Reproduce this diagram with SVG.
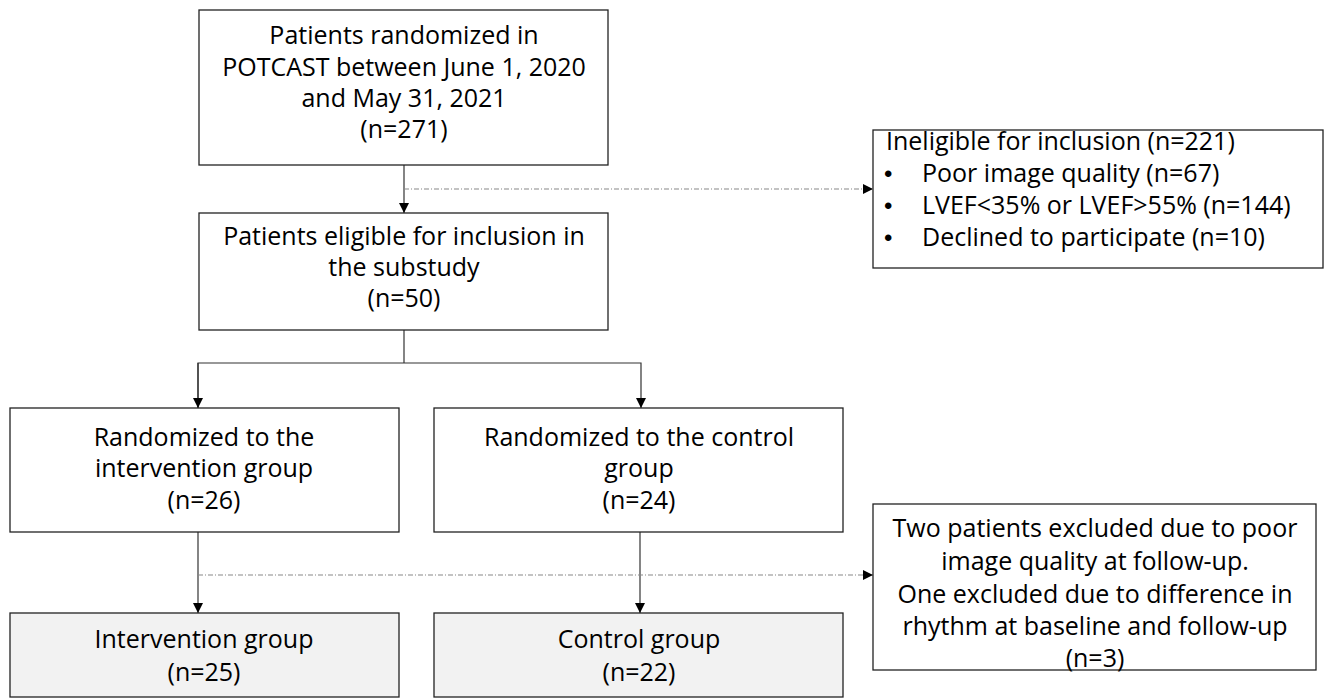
<svg xmlns="http://www.w3.org/2000/svg" width="1326" height="700" viewBox="0 0 1326 700">
<style>
.box{fill:#fff;stroke:#222;stroke-width:1.3}
.gbox{fill:#f2f2f2;stroke:#222;stroke-width:1.3}
text{font-family:"Open Sans",Lato,"Liberation Sans",sans-serif;font-size:25px;fill:#000}
.c{text-anchor:middle}
.b{font-family:"Liberation Sans",sans-serif;font-size:24px}
.ln{fill:none;stroke:#333;stroke-width:1.2}
.dl{fill:none;stroke:#888;stroke-width:1.2;stroke-dasharray:5 2 1 2}
</style>
<defs>
<marker id="ah" viewBox="0 0 10 10" refX="10" refY="5" markerWidth="10" markerHeight="10" markerUnits="userSpaceOnUse" orient="auto">
<path d="M0,0 L10,5 L0,10 z" fill="#000"/>
</marker>
</defs>
<g id="connectors">
<line class="ln" x1="404" y1="165" x2="404" y2="213" marker-end="url(#ah)"/>
<line class="dl" x1="404" y1="189" x2="873" y2="189" marker-end="url(#ah)"/>
<polyline class="ln" points="404,330 404,363"/>
<polyline class="ln" points="198,408 198,363 641,363 641,408" marker-end="url(#ah)"/>
<line class="ln" x1="198" y1="363" x2="198" y2="408" marker-end="url(#ah)"/>
<line class="ln" x1="198" y1="532" x2="198" y2="613" marker-end="url(#ah)"/>
<line class="ln" x1="640" y1="532" x2="640" y2="613" marker-end="url(#ah)"/>
<line class="dl" x1="198" y1="575" x2="873" y2="575" marker-end="url(#ah)"/>
</g>
<g id="n1">
<rect class="box" x="199" y="10" width="409" height="155"/>
<text class="c" x="404" y="44">Patients randomized in</text>
<text class="c" x="404" y="76">POTCAST between June 1, 2020</text>
<text class="c" x="404" y="107">and May 31, 2021</text>
<text class="c" x="404" y="138">(n=271)</text>
</g>
<g id="n2">
<rect class="box" x="199" y="213" width="409" height="117"/>
<text class="c" x="404" y="245">Patients eligible for inclusion in</text>
<text class="c" x="404" y="276">the substudy</text>
<text class="c" x="404" y="307">(n=50)</text>
</g>
<g id="n3">
<rect class="box" x="873" y="130" width="450" height="138"/>
<text x="886" y="150">Ineligible for inclusion (n=221)</text>
<text class="b" x="884" y="182">•</text><text x="922" y="182">Poor image quality (n=67)</text>
<text class="b" x="884" y="214">•</text><text x="922" y="214">LVEF&lt;35% or LVEF&gt;55% (n=144)</text>
<text class="b" x="884" y="246">•</text><text x="922" y="246">Declined to participate (n=10)</text>
</g>
<g id="n4">
<rect class="box" x="10" y="408" width="389" height="124"/>
<text class="c" x="204" y="446">Randomized to the</text>
<text class="c" x="204" y="477">intervention group</text>
<text class="c" x="204" y="509">(n=26)</text>
</g>
<g id="n5">
<rect class="box" x="434" y="408" width="409" height="124"/>
<text class="c" x="639" y="446">Randomized to the control</text>
<text class="c" x="639" y="477">group</text>
<text class="c" x="639" y="509">(n=24)</text>
</g>
<g id="n6">
<rect class="box" x="873" y="504" width="443" height="166"/>
<text class="c" x="1095" y="537">Two patients excluded due to poor</text>
<text class="c" x="1095" y="570">image quality at follow-up.</text>
<text class="c" x="1095" y="603">One excluded due to difference in</text>
<text class="c" x="1095" y="635">rhythm at baseline and follow-up</text>
<text class="c" x="1095" y="667">(n=3)</text>
</g>
<g id="n7">
<rect class="gbox" x="10" y="613" width="389" height="84"/>
<text class="c" x="204" y="648">Intervention group</text>
<text class="c" x="204" y="681">(n=25)</text>
</g>
<g id="n8">
<rect class="gbox" x="434" y="613" width="409" height="84"/>
<text class="c" x="639" y="648">Control group</text>
<text class="c" x="639" y="681">(n=22)</text>
</g>
</svg>
